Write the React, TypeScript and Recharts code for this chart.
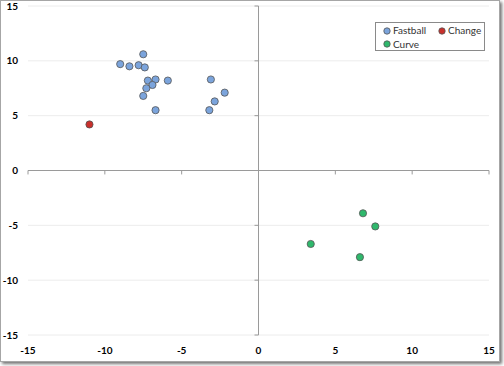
import {
  CartesianGrid,
  ReferenceLine,
  Scatter,
  ScatterChart,
  XAxis,
  YAxis,
} from "recharts";

const fastball = [
  { x: -7.5, y: 10.6 },
  { x: -9.0, y: 9.7 },
  { x: -8.4, y: 9.5 },
  { x: -7.8, y: 9.6 },
  { x: -7.4, y: 9.4 },
  { x: -7.2, y: 8.2 },
  { x: -6.7, y: 8.3 },
  { x: -5.9, y: 8.2 },
  { x: -6.9, y: 7.8 },
  { x: -7.3, y: 7.5 },
  { x: -7.5, y: 6.8 },
  { x: -6.7, y: 5.5 },
  { x: -3.1, y: 8.3 },
  { x: -2.2, y: 7.1 },
  { x: -2.85, y: 6.3 },
  { x: -3.2, y: 5.5 },
];
const change = [{ x: -11.0, y: 4.2 }];
const curve = [
  { x: 6.8, y: -3.9 },
  { x: 7.6, y: -5.1 },
  { x: 3.4, y: -6.7 },
  { x: 6.6, y: -7.9 },
];

const ticks = [-15, -10, -5, 0, 5, 10, 15];

const series = [
  { name: "Fastball", data: fastball, fill: "#7ba4dc" },
  { name: "Change", data: change, fill: "#c9302c" },
  { name: "Curve", data: curve, fill: "#2fb86c" },
];

const tickStyle = {
  fill: "#000",
  fontSize: 10,
  fontWeight: 700,
  fontFamily: "Lato, 'Open Sans', sans-serif",
};

const dot = (fill: string) => (props: any) =>
  (
    <circle
      cx={props.cx}
      cy={props.cy}
      r={3.6}
      fill={fill}
      stroke="#555"
      strokeWidth={0.8}
    />
  );

function LegendBox() {
  const item = (name: string, fill: string, w: number) => (
    <span style={{ display: "inline-flex", alignItems: "center", width: w }}>
      <svg width={8} height={8} style={{ marginRight: 2 }}>
        <circle cx={4} cy={4} r={3.2} fill={fill} stroke="#555" strokeWidth={0.8} />
      </svg>
      {name}
    </span>
  );
  return (
    <div
      style={{
        position: "absolute",
        left: 375,
        top: 22,
        border: "1px solid #8a8a8a",
        boxSizing: "border-box",
        width: 110,
        height: 29,
        padding: "1px 0 0 7px",
        fontFamily: "Lato, 'Open Sans', sans-serif",
        fontSize: 10,
        lineHeight: "13px",
        color: "#333",
        background: "#fff",
        whiteSpace: "nowrap",
      }}
    >
      <div>
        {item("Fastball", series[0].fill, 55)}
        {item("Change", series[1].fill, 45)}
      </div>
      <div>{item("Curve", series[2].fill, 55)}</div>
    </div>
  );
}

export default function App() {
  return (
    <div style={{ position: "fixed", left: 0, top: 0, width: 504, height: 366, background: "#fff" }}>
      <div
        style={{
          position: "absolute",
          left: 0,
          top: 0,
          width: 498,
          height: 360,
          border: "1px solid #a6a6a6",
          boxShadow: "2px 2px 3px rgba(0,0,0,0.55)",
          background: "#fff",
        }}
      />
      <div style={{ position: "absolute", left: 0, top: 0 }}>
        <ScatterChart
          width={504}
          height={366}
          margin={{ top: 6, right: 15, bottom: 10, left: 0 }}
        >
          <CartesianGrid vertical={false} stroke="#ececec" />
          <XAxis
            type="number"
            dataKey="x"
            domain={[-15, 15]}
            ticks={ticks}
            axisLine={false}
            tickLine={false}
            tickSize={0}
            tickMargin={12}
            height={21}
            tick={tickStyle}
          />
          <YAxis
            type="number"
            dataKey="y"
            domain={[-15, 15]}
            ticks={ticks}
            axisLine={false}
            tickLine={false}
            tickSize={0}
            tickMargin={10}
            width={28}
            tick={tickStyle}
          />
          <ReferenceLine x={0} stroke="#9a9a9a" />
          <ReferenceLine y={0} stroke="#9a9a9a" />
          {ticks.map((t) => (
            <ReferenceLine
              key={"xt" + t}
              segment={[
                { x: t, y: 0 },
                { x: t, y: -0.36 },
              ]}
              stroke="#9a9a9a"
            />
          ))}
          {ticks.map((t) => (
            <ReferenceLine
              key={"yt" + t}
              segment={[
                { x: 0, y: t },
                { x: -0.26, y: t },
              ]}
              stroke="#9a9a9a"
            />
          ))}
          {series.map((s) => (
            <Scatter
              key={s.name}
              name={s.name}
              data={s.data}
              fill={s.fill}
              shape={dot(s.fill)}
              isAnimationActive={false}
            />
          ))}
        </ScatterChart>
      </div>
      <LegendBox />
    </div>
  );
}
